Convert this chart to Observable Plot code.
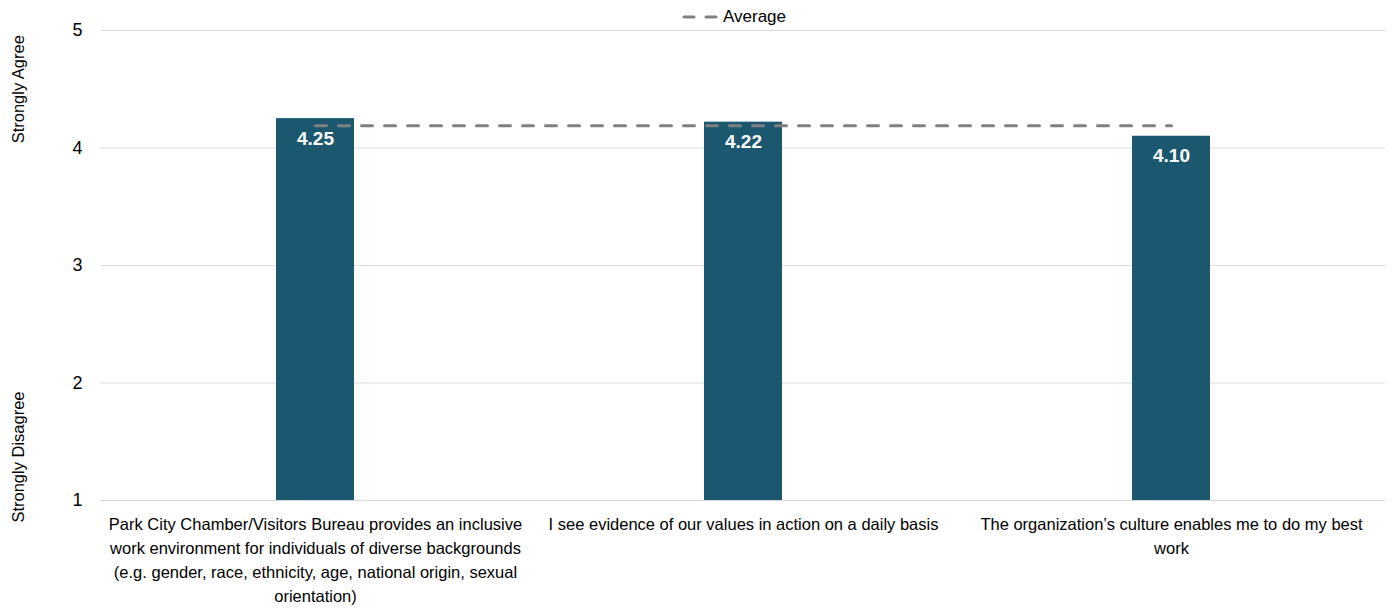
<!DOCTYPE html>
<html>
<head>
<meta charset="utf-8">
<script src="https://cdn.jsdelivr.net/npm/d3@7"></script>
<script src="https://cdn.jsdelivr.net/npm/@observablehq/plot@0.6"></script>
<style>
  body { margin: 0; background: #fff; font-family: "Liberation Sans", Arial, sans-serif; }
  #wrap { position: relative; width: 1392px; height: 609px; }
  #legend { position: absolute; left: 682px; top: 7px; display: flex; align-items: center; font-size: 17px; color: #000; }
  #legend svg { margin-right: 5px; }
</style>
</head>
<body>
<div id="wrap">
  <div id="legend">
    <svg width="36" height="10"><line x1="2" y1="5" x2="34" y2="5" stroke="#808080" stroke-width="3" stroke-dasharray="10 12" stroke-linecap="round"/></svg>
    <span>Average</span>
  </div>
</div>
<script>
const categories = [
  "Park City Chamber/Visitors Bureau provides an inclusive work environment for individuals of diverse backgrounds (e.g. gender, race, ethnicity, age, national origin, sexual orientation)",
  "I see evidence of our values in action on a daily basis",
  "The organization’s culture enables me to do my best work"
];
const tickLabels = [
  "Park City Chamber/Visitors Bureau provides an inclusive\nwork environment for individuals of diverse backgrounds\n(e.g. gender, race, ethnicity, age, national origin, sexual\norientation)",
  "I see evidence of our values in action on a daily basis",
  "The organization’s culture enables me to do my best\nwork"
];
const scores = [4.25, 4.22, 4.10];
const averageScore = 4.19;
const yTicks = [1, 2, 3, 4, 5];
const scaleLabels = ["Strongly Agree", "Strongly Disagree"];
const scaleLabelValues = [4.5, 1.37];

const data = categories.map((c, i) => ({cat: c, value: scores[i], avg: averageScore}));
const labelFor = new Map(categories.map((c, i) => [c, tickLabels[i]]));
const anchors = scaleLabels.map((t, i) => ({text: t, y: scaleLabelValues[i]}));

const chart = Plot.plot({
  width: 1392,
  height: 609,
  marginTop: 30,
  marginBottom: 109,
  marginLeft: 100,
  marginRight: 7,
  style: {fontFamily: '"Liberation Sans", Arial, sans-serif', fontSize: "16.5px", color: "#000", background: "#fff"},
  x: {domain: categories, paddingInner: 0.818, paddingOuter: 0.409},
  y: {domain: [1, 5]},
  marks: [
    Plot.gridY(yTicks, {stroke: "#d9d9d9", strokeOpacity: 1, strokeWidth: 1}),
    Plot.axisY({ticks: yTicks, tickSize: 0, tickPadding: 18, label: null, fontSize: 18, tickFormat: d => d}),
    Plot.axisX({tickSize: 0, tickPadding: 13, label: null, fontSize: 16.5, lineHeight: 1.45, lineAnchor: "top", tickFormat: d => labelFor.get(d)}),
    Plot.barY(data, {x: "cat", y1: 1, y2: "value", fill: "#1b5870"}),
    Plot.lineY(data, {x: "cat", y: "avg", stroke: "#808080", strokeWidth: 3, strokeDasharray: "11 12", strokeLinecap: "round"}),
    Plot.text(data, {x: "cat", y: "value", text: d => d.value.toFixed(2), dy: 20, fill: "#fff", fontWeight: "bold", fontSize: 19}),
    Plot.text(anchors, {frameAnchor: "left", y: "y", text: "text", rotate: -90, textAnchor: "middle", dx: -82, fontSize: 16.5, fill: "#000"})
  ]
});
document.getElementById("wrap").prepend(chart);
</script>
</body>
</html>
